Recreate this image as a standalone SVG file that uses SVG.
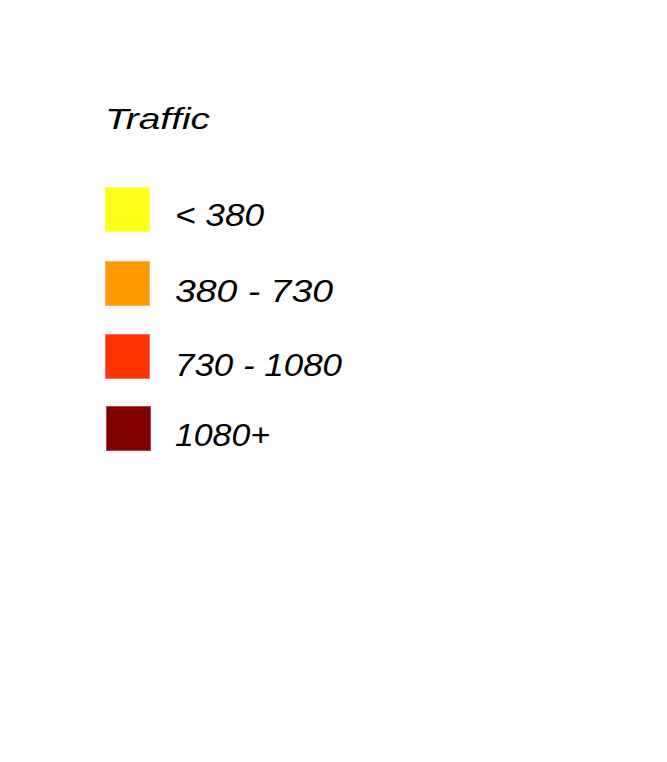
<svg xmlns="http://www.w3.org/2000/svg" width="667" height="762" viewBox="0 0 667 762">
<style>
text{font-family:"Comic Sans MS","Liberation Sans",sans-serif;font-style:italic;fill:#000;}
.t{font-size:30px;}
.l{font-size:32px;}
.sw{stroke-width:1;}
</style>
<rect width="667" height="762" fill="#fff"/>
<g id="title"><text class="t" x="105" y="129" textLength="105" lengthAdjust="spacingAndGlyphs">Traffic</text></g>
<g id="item1">
<rect class="sw" x="105.5" y="187.5" width="44" height="44" fill="#ffff19" stroke="#ffff66"/>
<text class="l" x="175" y="226" textLength="89" lengthAdjust="spacingAndGlyphs">&lt; 380</text>
</g>
<g id="item2">
<rect class="sw" x="105.5" y="261.5" width="44" height="44" fill="#ff9900" stroke="#ffb266"/>
<text class="l" x="175" y="302" textLength="158" lengthAdjust="spacingAndGlyphs">380 - 730</text>
</g>
<g id="item3">
<rect class="sw" x="105.5" y="334.5" width="44" height="44" fill="#ff3300" stroke="#ff6680"/>
<text class="l" x="175" y="376" textLength="167" lengthAdjust="spacingAndGlyphs">730 - 1080</text>
</g>
<g id="item4">
<rect class="sw" x="106.5" y="406.5" width="44" height="44" fill="#800000" stroke="#b04060"/>
<text class="l" x="175" y="446" textLength="95" lengthAdjust="spacingAndGlyphs">1080+</text>
</g>
<g id="connectors"></g>
</svg>
